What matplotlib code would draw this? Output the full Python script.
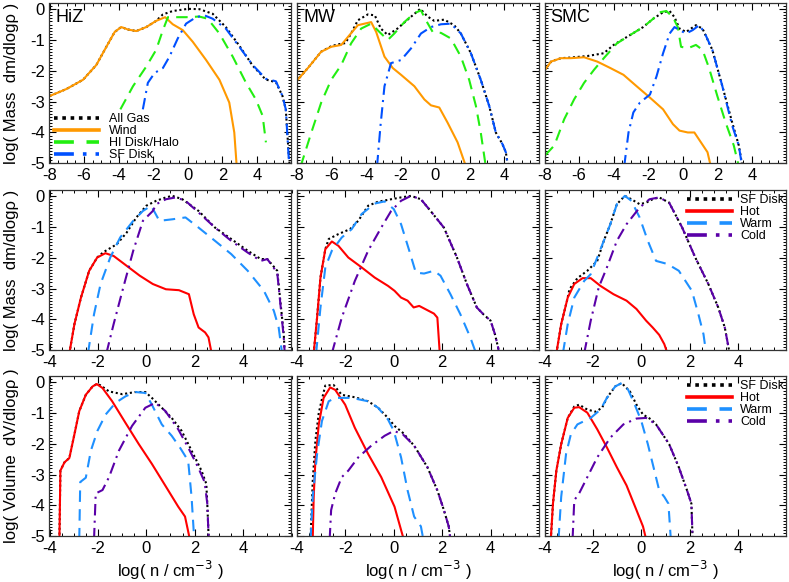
import matplotlib
matplotlib.use('Agg')
import matplotlib.pyplot as plt
from matplotlib.ticker import MultipleLocator

plt.rcParams['font.family'] = ['Liberation Sans', 'DejaVu Sans']

# ---------------- dados: linha de cima (massa por componente) ----------------
hiz_all_x = [-8.0, -7.02, -6.06, -5.29, -4.71, -4.23, -3.85, -3.46, -2.98, -2.4, -1.83, -1.44, -0.87, 0.0, 0.67, 1.44, 2.2, 3.0, 3.75, 4.5, 5.1, 5.48, 5.67, 5.85, 5.9]
hiz_all_y = [-2.82, -2.59, -2.29, -1.81, -1.22, -0.74, -0.58, -0.66, -0.71, -0.58, -0.38, -0.17, -0.06, 0.01, 0.0, -0.15, -0.58, -1.2, -1.83, -2.28, -2.37, -2.82, -3.25, -4.8, -5.1]
hiz_wind_x = [-8.0, -7.02, -6.06, -5.29, -4.71, -4.23, -3.85, -3.46, -2.98, -2.4, -1.83, -1.31, -0.87, -0.29, 0.29, 1.06, 1.83, 2.4, 2.69, 2.83]
hiz_wind_y = [-2.82, -2.59, -2.29, -1.81, -1.22, -0.74, -0.58, -0.66, -0.71, -0.58, -0.38, -0.26, -0.49, -0.68, -1.06, -1.65, -2.29, -3.03, -4.0, -5.1]
hiz_hi_x = [-3.9, -3.17, -2.4, -1.83, -1.44, -1.15, -0.67, -0.1, 0.67, 1.15, 1.83, 2.6, 3.37, 3.94, 4.33, 4.52]
hiz_hi_y = [-3.25, -2.5, -1.86, -1.32, -0.68, -0.26, -0.26, -0.26, -0.24, -0.31, -0.79, -1.54, -2.39, -2.93, -3.46, -4.32]
hiz_sf_x = [-2.6, -2.31, -1.92, -1.44, -1.06, -0.58, -0.1, 0.48, 0.96, 1.44, 2.2, 2.98, 3.75, 4.52, 5.1, 5.48, 5.67, 5.83, 5.88]
hiz_sf_y = [-3.25, -2.39, -2.07, -1.91, -1.54, -0.95, -0.47, -0.26, -0.2, -0.31, -0.63, -1.22, -1.81, -2.26, -2.34, -2.82, -3.25, -4.74, -5.1]

mw_all_x = [-8.04, -7.37, -6.6, -6.02, -5.6, -5.2, -4.87, -4.48, -3.9, -3.5, -3.15, -2.75, -2.19, -1.6, -0.87, -0.44, -0.06, 0.52, 1.09, 1.48, 2.06, 2.63, 3.12, 3.5, 3.88, 4.08, 4.21]
mw_all_y = [-2.34, -1.91, -1.38, -1.2, -1.14, -1.1, -0.79, -0.36, -0.17, -0.2, -0.63, -0.84, -0.63, -0.34, 0.01, -0.24, -0.38, -0.34, -0.52, -0.79, -1.43, -2.29, -3.14, -4.0, -4.37, -4.64, -5.1]
mw_wind_x = [-8.04, -7.37, -6.6, -6.02, -5.44, -4.96, -4.48, -3.71, -3.42, -2.94, -2.46, -1.98, -1.21, -0.63, -0.25, 0.23, 0.71, 1.29, 1.77]
mw_wind_y = [-2.34, -1.91, -1.38, -1.22, -1.16, -0.84, -0.52, -0.42, -0.74, -1.54, -1.91, -2.13, -2.5, -2.93, -3.12, -3.19, -3.68, -4.32, -5.1]
mw_hi_x = [-7.79, -7.17, -6.6, -6.02, -5.44, -4.87, -4.29, -3.71, -3.23, -2.75, -2.37, -1.79, -1.21, -0.83, -0.54, -0.15, 0.33, 0.9, 1.48, 1.96, 2.35, 2.63, 2.92]
mw_hi_y = [-5.1, -4.0, -3.03, -2.29, -1.81, -1.11, -0.63, -0.47, -0.74, -1.0, -0.79, -0.42, -0.13, -0.04, -0.36, -0.74, -0.77, -0.95, -1.54, -2.29, -3.14, -4.0, -5.1]
mw_sf_x = [-3.37, -3.17, -2.94, -2.56, -1.98, -1.4, -0.83, -0.25, 0.33, 0.9, 1.48, 2.06, 2.63, 3.12, 3.5, 3.88, 4.08, 4.21]
mw_sf_y = [-5.1, -3.78, -2.5, -1.75, -1.65, -1.27, -0.79, -0.58, -0.49, -0.47, -0.79, -1.43, -2.29, -3.14, -4.0, -4.37, -4.64, -5.1]

smc_all_x = [-8.0, -7.62, -7.05, -6.48, -5.52, -4.57, -4.0, -3.05, -2.29, -1.71, -1.14, -0.76, -0.48, -0.19, 0.19, 0.76, 1.14, 1.71, 2.29, 2.86, 3.24, 3.45]
smc_all_y = [-1.99, -1.7, -1.59, -1.57, -1.52, -1.43, -1.16, -0.84, -0.58, -0.31, -0.1, -0.06, -0.26, -0.63, -0.74, -0.52, -0.63, -1.32, -2.5, -3.68, -4.42, -5.1]
smc_wind_x = [-8.0, -7.62, -7.05, -6.48, -5.71, -4.95, -4.19, -3.43, -2.67, -1.9, -1.14, -0.57, -0.19, 0.29, 0.67, 1.05, 1.43, 1.62]
smc_wind_y = [-1.99, -1.7, -1.59, -1.59, -1.56, -1.7, -1.91, -2.13, -2.5, -2.87, -3.25, -3.73, -3.94, -4.0, -4.0, -4.32, -4.64, -5.1]
smc_hi_x = [-7.96, -7.43, -6.86, -6.29, -5.71, -5.14, -4.57, -3.81, -3.05, -2.29, -1.71, -1.33, -0.95, -0.57, -0.29, -0.1, 0.29, 0.76, 1.14, 1.52, 2.0, 2.48, 2.95, 3.24]
smc_hi_y = [-4.74, -4.42, -3.57, -2.93, -2.39, -1.97, -1.59, -1.11, -0.84, -0.58, -0.31, -0.1, -0.06, -0.26, -0.58, -1.22, -1.27, -1.16, -1.32, -1.91, -2.82, -3.68, -4.42, -5.1]
smc_sf_x = [-3.39, -3.14, -2.86, -2.48, -1.9, -1.52, -1.14, -0.76, -0.48, -0.19, 0.19, 0.57, 0.95, 1.24, 1.71, 2.29, 2.86, 3.24, 3.43]
smc_sf_y = [-5.1, -4.0, -3.35, -3.03, -2.77, -2.18, -1.43, -0.79, -0.58, -0.68, -0.79, -0.68, -0.52, -0.74, -1.32, -2.5, -3.78, -4.42, -5.1]

# ---------------- dados: linha do meio (massa do disco por fase) ----------------
hiz_m_sf_x = [-3.18, -2.97, -2.7, -2.36, -2.03, -1.76, -1.22, -0.81, -0.41, 0.0, 0.41, 0.81, 1.08, 1.49, 2.16, 2.84, 3.51, 4.19, 4.73, 5.0, 5.41, 5.68, 5.72]
hiz_m_sf_y = [-5.1, -4.15, -3.29, -2.42, -1.99, -1.81, -1.56, -1.18, -0.69, -0.31, -0.15, -0.04, 0.01, -0.1, -0.48, -1.02, -1.39, -1.77, -2.04, -2.04, -2.42, -4.48, -5.1]
hiz_m_hot_x = [-3.18, -2.97, -2.7, -2.36, -2.03, -1.69, -1.35, -0.81, -0.27, 0.27, 0.81, 1.35, 1.76, 1.96, 2.16, 2.43, 2.57, 2.7]
hiz_m_hot_y = [-5.1, -4.15, -3.29, -2.42, -1.99, -1.85, -1.94, -2.26, -2.58, -2.85, -3.02, -3.05, -3.18, -3.83, -4.26, -4.42, -4.58, -5.1]
hiz_m_warm_x = [-2.41, -2.16, -1.89, -1.49, -1.08, -0.54, -0.14, 0.2, 0.54, 1.08, 1.62, 2.16, 2.84, 3.51, 4.19, 4.86, 5.27, 5.47, 5.61]
hiz_m_warm_y = [-5.1, -3.83, -2.85, -1.99, -1.34, -0.8, -0.48, -0.31, -0.8, -0.75, -0.69, -1.02, -1.45, -1.88, -2.42, -3.07, -3.72, -4.26, -5.1]
hiz_m_cold_x = [-1.65, -1.35, -0.95, -0.54, -0.14, 0.27, 0.41, 0.81, 1.22, 1.62, 2.16, 2.84, 3.51, 4.19, 4.73, 5.0, 5.41, 5.68, 5.72]
hiz_m_cold_y = [-5.1, -4.15, -2.96, -1.77, -0.8, -0.48, -0.26, -0.1, -0.04, -0.15, -0.53, -1.02, -1.45, -1.83, -2.1, -2.04, -2.48, -4.58, -5.1]

mw_m_sf_x = [-3.31, -3.17, -3.03, -2.83, -2.69, -2.29, -1.81, -1.47, -1.06, -0.65, -0.11, 0.3, 0.71, 1.12, 1.52, 2.07, 2.61, 3.02, 3.43, 3.7, 4.0, 4.18, 4.31, 4.35]
mw_m_sf_y = [-5.1, -3.94, -2.64, -1.72, -1.39, -1.23, -1.07, -0.8, -0.31, -0.18, -0.1, -0.04, 0.01, -0.1, -0.48, -1.02, -1.99, -2.85, -3.61, -3.83, -4.04, -4.48, -4.91, -5.1]
mw_m_hot_x = [-3.31, -3.17, -3.03, -2.83, -2.56, -2.29, -1.88, -1.33, -0.79, -0.24, 0.03, 0.3, 0.57, 0.82, 1.05, 1.39, 1.66, 1.8, 1.9]
mw_m_hot_y = [-5.1, -3.94, -2.64, -1.72, -1.47, -1.61, -1.99, -2.31, -2.64, -2.91, -3.07, -3.29, -3.39, -3.61, -3.56, -3.7, -3.81, -3.94, -5.1]
mw_m_warm_x = [-3.21, -3.03, -2.83, -2.56, -2.15, -1.74, -1.33, -0.79, -0.38, 0.0, 0.3, 0.64, 0.91, 1.25, 1.66, 1.93, 2.34, 2.75, 3.16, 3.4]
mw_m_warm_y = [-5.1, -3.61, -2.31, -1.77, -1.34, -1.07, -0.58, -0.24, -0.17, -0.42, -0.91, -1.77, -2.48, -2.51, -2.42, -2.58, -3.18, -3.83, -4.58, -5.1]
mw_m_cold_x = [-2.56, -2.15, -1.61, -1.06, -0.52, -0.11, 0.3, 0.71, 1.12, 1.52, 2.07, 2.61, 3.02, 3.43, 3.7, 4.0, 4.18, 4.31, 4.35]
mw_m_cold_y = [-5.1, -3.94, -2.75, -1.77, -1.02, -0.48, -0.15, 0.01, -0.1, -0.48, -1.02, -1.99, -2.85, -3.61, -3.83, -4.04, -4.48, -4.91, -5.1]

smc_m_sf_x = [-3.51, -3.31, -3.04, -2.97, -2.64, -2.23, -1.82, -1.55, -1.28, -1.01, -0.68, -0.41, -0.07, 0.2, 0.47, 0.74, 1.15, 1.69, 2.23, 2.77, 3.18, 3.45, 3.65]
smc_m_sf_y = [-5.1, -4.15, -3.29, -3.02, -2.66, -2.42, -2.1, -1.45, -0.91, -0.26, 0.01, -0.1, -0.26, -0.21, -0.1, -0.04, -0.21, -1.02, -1.99, -2.85, -3.61, -4.26, -5.1]
smc_m_hot_x = [-3.51, -3.31, -3.04, -2.77, -2.43, -2.09, -1.69, -1.15, -0.61, -0.2, 0.2, 0.47, 0.74, 0.95, 1.08]
smc_m_hot_y = [-5.1, -4.15, -3.29, -2.85, -2.66, -2.66, -2.91, -3.18, -3.39, -3.66, -4.04, -4.26, -4.5, -4.8, -5.1]
smc_m_warm_x = [-3.24, -3.04, -2.77, -2.36, -2.09, -1.82, -1.55, -1.28, -1.01, -0.68, -0.41, -0.07, 0.27, 0.61, 1.08, 1.55, 2.09, 2.36, 2.57, 2.68]
smc_m_warm_y = [-5.1, -4.15, -3.29, -2.75, -2.53, -1.99, -1.45, -0.91, -0.26, 0.01, -0.15, -0.69, -1.45, -2.1, -2.2, -2.42, -3.07, -3.83, -4.48, -5.1]
smc_m_cold_x = [-2.36, -2.09, -1.76, -1.42, -1.01, -0.61, -0.07, 0.34, 0.74, 1.15, 1.69, 2.23, 2.77, 3.18, 3.45, 3.65]
smc_m_cold_y = [-5.1, -4.04, -2.96, -2.31, -1.45, -0.91, -0.37, -0.1, -0.04, -0.21, -1.02, -1.99, -2.85, -3.61, -4.26, -5.1]

# ---------------- dados: linha de baixo (volume do disco por fase) ----------------
hiz_v_sf_x = [-3.59, -3.55, -3.38, -3.18, -2.97, -2.77, -2.5, -2.22, -2.05, -1.9, -1.54, -0.99, -0.45, -0.04, 0.23, 0.64, 1.05, 1.46, 1.87, 2.28, 2.48, 2.52, 2.58]
hiz_v_sf_y = [-5.1, -2.87, -2.6, -2.46, -1.69, -0.94, -0.41, -0.14, -0.06, -0.1, -0.3, -0.39, -0.32, -0.32, -0.51, -0.83, -1.16, -1.58, -2.22, -2.87, -3.3, -3.94, -5.1]
hiz_v_hot_x = [-3.59, -3.55, -3.38, -3.18, -2.97, -2.77, -2.5, -2.22, -2.05, -1.81, -1.41, -0.86, -0.31, 0.23, 0.78, 1.32, 1.6, 1.8]
hiz_v_hot_y = [-5.1, -2.87, -2.6, -2.46, -1.69, -0.94, -0.41, -0.14, -0.06, -0.19, -0.62, -1.32, -2.01, -2.65, -3.35, -4.04, -4.36, -5.1]
hiz_v_warm_x = [-2.77, -2.73, -2.5, -2.29, -2.02, -1.68, -1.27, -0.86, -0.45, -0.04, 0.23, 0.64, 1.05, 1.39, 1.73, 1.87, 1.98]
hiz_v_warm_y = [-5.1, -3.24, -3.1, -2.22, -1.58, -1.05, -0.67, -0.46, -0.32, -0.35, -0.73, -1.37, -1.74, -2.12, -2.55, -3.72, -5.1]
hiz_v_cold_x = [-2.16, -2.09, -1.81, -1.54, -1.13, -0.59, -0.04, 0.37, 0.78, 1.32, 1.73, 2.14, 2.41, 2.52, 2.58]
hiz_v_cold_y = [-5.1, -3.61, -3.5, -3.08, -2.22, -1.42, -0.83, -0.67, -0.93, -1.53, -2.12, -2.76, -3.24, -3.94, -5.1]

mw_v_sf_x = [-3.44, -3.35, -3.24, -3.1, -2.97, -2.83, -2.49, -2.15, -1.61, -1.06, -0.65, -0.24, 0.03, 0.37, 0.84, 1.39, 1.8, 2.07, 2.27, 2.34]
mw_v_sf_y = [-5.1, -3.2, -1.9, -1.0, -0.55, -0.11, -0.09, -0.41, -0.49, -0.62, -0.83, -1.16, -1.42, -1.64, -2.06, -2.76, -3.51, -4.15, -4.68, -5.1]
mw_v_hot_x = [-3.35, -3.31, -3.24, -3.1, -2.9, -2.63, -2.42, -2.01, -1.61, -1.06, -0.52, 0.03, 0.41]
mw_v_hot_y = [-5.1, -3.72, -2.55, -1.37, -0.51, -0.17, -0.25, -0.73, -1.48, -2.33, -3.08, -4.04, -5.1]
mw_v_warm_x = [-3.44, -3.35, -3.17, -2.97, -2.69, -2.42, -1.74, -1.06, -0.65, -0.24, 0.0, 0.3, 0.57, 0.84, 1.12, 1.22]
mw_v_warm_y = [-5.1, -3.72, -2.33, -1.26, -0.62, -0.51, -0.51, -0.62, -0.83, -1.21, -1.58, -2.44, -3.51, -4.36, -4.68, -5.1]
mw_v_cold_x = [-2.65, -2.59, -2.42, -2.15, -1.88, -1.47, -0.93, -0.38, 0.0, 0.37, 0.84, 1.39, 1.8, 2.07, 2.27, 2.34]
mw_v_cold_y = [-5.1, -4.15, -3.61, -3.08, -2.87, -2.44, -2.06, -1.74, -1.58, -1.69, -2.06, -2.76, -3.51, -4.15, -4.68, -5.1]

smc_v_sf_x = [-3.74, -3.65, -3.51, -3.31, -3.04, -2.77, -2.57, -2.23, -1.89, -1.62, -1.42, -1.08, -0.81, -0.47, -0.2, 0.07, 0.41, 0.61, 1.15, 1.55, 1.89, 2.07, 2.12]
smc_v_sf_y = [-5.1, -3.94, -2.87, -2.01, -1.16, -0.79, -0.73, -0.89, -0.96, -0.83, -0.51, -0.14, -0.03, -0.3, -0.73, -1.05, -1.21, -1.37, -2.01, -2.76, -3.51, -3.94, -5.1]
smc_v_hot_x = [-3.74, -3.65, -3.51, -3.31, -3.04, -2.77, -2.57, -2.23, -1.82, -1.42, -1.01, -0.61, -0.2, 0.07, 0.2]
smc_v_hot_y = [-5.1, -3.94, -2.87, -2.01, -1.16, -0.83, -0.81, -0.99, -1.53, -2.12, -2.76, -3.35, -4.15, -4.68, -5.1]
smc_v_warm_x = [-3.42, -3.31, -3.11, -2.91, -2.64, -2.09, -1.69, -1.42, -1.08, -0.81, -0.54, -0.27, 0.0, 0.27, 0.54, 0.74, 0.95, 1.12, 1.22]
smc_v_warm_y = [-5.1, -3.72, -2.33, -1.69, -1.37, -1.16, -0.89, -0.51, -0.14, -0.03, -0.25, -0.73, -1.26, -2.01, -2.87, -3.51, -3.72, -3.94, -5.1]
smc_v_cold_x = [-2.84, -2.77, -2.57, -2.23, -1.82, -1.28, -0.74, -0.2, 0.2, 0.61, 1.15, 1.55, 1.89, 2.07, 2.12]
smc_v_cold_y = [-5.1, -3.83, -3.61, -3.08, -2.44, -1.8, -1.37, -1.18, -1.16, -1.37, -2.01, -2.76, -3.51, -3.94, -5.1]

nomes = ['HiZ', 'MW', 'SMC']
rotulos_topo = ['All Gas', 'Wind', 'HI Disk/Halo', 'SF Disk']
rotulos_fase = ['SF Disk', 'Hot', 'Warm', 'Cold']

linha_topo = [
    [(hiz_all_x, hiz_all_y), (hiz_wind_x, hiz_wind_y), (hiz_hi_x, hiz_hi_y), (hiz_sf_x, hiz_sf_y)],
    [(mw_all_x, mw_all_y), (mw_wind_x, mw_wind_y), (mw_hi_x, mw_hi_y), (mw_sf_x, mw_sf_y)],
    [(smc_all_x, smc_all_y), (smc_wind_x, smc_wind_y), (smc_hi_x, smc_hi_y), (smc_sf_x, smc_sf_y)],
]
linha_meio = [
    [(hiz_m_sf_x, hiz_m_sf_y), (hiz_m_hot_x, hiz_m_hot_y), (hiz_m_warm_x, hiz_m_warm_y), (hiz_m_cold_x, hiz_m_cold_y)],
    [(mw_m_sf_x, mw_m_sf_y), (mw_m_hot_x, mw_m_hot_y), (mw_m_warm_x, mw_m_warm_y), (mw_m_cold_x, mw_m_cold_y)],
    [(smc_m_sf_x, smc_m_sf_y), (smc_m_hot_x, smc_m_hot_y), (smc_m_warm_x, smc_m_warm_y), (smc_m_cold_x, smc_m_cold_y)],
]
linha_baixo = [
    [(hiz_v_sf_x, hiz_v_sf_y), (hiz_v_hot_x, hiz_v_hot_y), (hiz_v_warm_x, hiz_v_warm_y), (hiz_v_cold_x, hiz_v_cold_y)],
    [(mw_v_sf_x, mw_v_sf_y), (mw_v_hot_x, mw_v_hot_y), (mw_v_warm_x, mw_v_warm_y), (mw_v_cold_x, mw_v_cold_y)],
    [(smc_v_sf_x, smc_v_sf_y), (smc_v_hot_x, smc_v_hot_y), (smc_v_warm_x, smc_v_warm_y), (smc_v_cold_x, smc_v_cold_y)],
]

# estilos (cor, tracejado)
estilo_topo = [('black', (0, (1, 1.3))), ('#FF9900', '-'), ('#22EE11', (0, (5.5, 3.5))), ('#0050FF', (0, (5.5, 2.5, 1, 2.5)))]
estilo_fase = [('black', (0, (1, 1.3))), ('#FF0000', '-'), ('#1E90FF', (0, (5.5, 3.5))), ('#5A00A8', (0, (5.5, 2.5, 1, 2.5)))]

W, H = 789, 582
fig = plt.figure(figsize=(W / 100, H / 100), dpi=100)

lefts = [49.5, 297.0, 544.5]
tops = [3.0, 190.0, 376.0]
aw, ah = 242.0, 160.3


def eixo(col, lin, xmin):
    ax = fig.add_axes([lefts[col] / W, 1 - (tops[lin] + ah) / H, aw / W, ah / H])
    ax.set_xlim(xmin, 6)
    ax.set_ylim(-5.0, 0.2)
    ax.xaxis.set_major_locator(MultipleLocator(2))
    ax.xaxis.set_minor_locator(MultipleLocator(0.5))
    ax.yaxis.set_major_locator(MultipleLocator(1))
    ax.yaxis.set_minor_locator(MultipleLocator(0.1))
    ax.tick_params(which='both', direction='in', top=True, right=True, labelsize=12, pad=3.5)
    ax.tick_params(which='major', length=5, width=0.8)
    ax.tick_params(which='minor', length=2.5, width=0.7)
    ax.set_xticks([t for t in range(-8, 6, 2) if t >= xmin])
    ax.set_xticklabels([str(t) for t in range(-8, 6, 2) if t >= xmin])
    for s in ax.spines.values():
        s.set_linewidth(0.9)
        s.set_color('#333333')
    if col == 0:
        ax.set_yticks([0, -1, -2, -3, -4, -5])
        ax.set_yticklabels(['0', '-1', '-2', '-3', '-4', '-5'])
    else:
        ax.set_yticklabels([])
    return ax


for lin, (dados, estilos, xmin) in enumerate([(linha_topo, estilo_topo, -8),
                                               (linha_meio, estilo_fase, -4),
                                               (linha_baixo, estilo_fase, -4)]):
    for col in range(3):
        ax = eixo(col, lin, xmin)
        rot = rotulos_topo if lin == 0 else rotulos_fase
        for (xs, ys), (cor, ls), r in zip(dados[col], estilos, rot):
            ax.plot(xs, ys, color=cor, linestyle=ls, lw=1.5, label=r)
        if lin == 0:
            ax.text(0.025, 0.965, nomes[col], transform=ax.transAxes, fontsize=13, va='top', ha='left')
        if col == 0:
            if lin == 2:
                ax.set_ylabel('log( Volume  dV/dlogρ )', fontsize=12, labelpad=8)
            else:
                ax.set_ylabel('log( Mass  dm/dlogρ )', fontsize=12, labelpad=8)
        if lin == 2:
            ax.set_xlabel('log( n / cm$^{-3}$ )', fontsize=12, labelpad=2)
        leg = None
        if lin == 0 and col == 0:
            leg = ax.legend(loc='lower left', bbox_to_anchor=(0.02, 0.012), borderaxespad=0, borderpad=0,
                            frameon=False, fontsize=9, labelspacing=0.0, handlelength=3.6, handletextpad=0.8)
        if lin > 0 and col == 2:
            leg = ax.legend(loc='upper right', bbox_to_anchor=(0.99, 0.972), borderaxespad=0, borderpad=0,
                            frameon=False, fontsize=9, labelspacing=0.0, handlelength=3.6, handletextpad=0.65)
        if leg is not None:
            for h in leg.legend_handles:
                h.set_linewidth(2.6)

fig.savefig('out.png', dpi=100)
